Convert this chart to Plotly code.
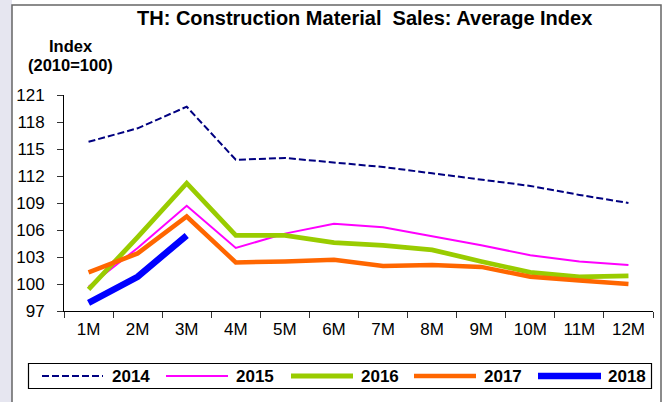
import plotly.graph_objects as go

months = ["1M", "2M", "3M", "4M", "5M", "6M", "7M", "8M", "9M", "10M", "11M", "12M"]
s2014 = [115.8, 117.3, 119.7, 113.8, 114.0, 113.5, 113.0, 112.3, 111.6, 110.9, 109.9, 109.0]
s2015 = [99.7, 104.0, 108.7, 104.0, 105.6, 106.7, 106.3, 105.3, 104.3, 103.2, 102.5, 102.1]
s2016 = [99.4, 105.2, 111.2, 105.4, 105.4, 104.6, 104.3, 103.8, 102.5, 101.3, 100.8, 100.9]
s2017 = [101.3, 103.4, 107.5, 102.4, 102.5, 102.7, 102.0, 102.1, 101.9, 100.8, 100.4, 100.0]
s2018 = [97.9, 100.8, 105.4]
yticks = [97, 100, 103, 106, 109, 112, 115, 118, 121]

series = [
    ("2014", s2014, "#000080", 2, "7px,3px"),
    ("2015", s2015, "#ff00ff", 2, "solid"),
    ("2016", s2016, "#99cc00", 4.8, "solid"),
    ("2017", s2017, "#ff6600", 4.5, "solid"),
    ("2018", s2018, "#0000ff", 6.5, "solid"),
]

W, H = 667, 402
L, R, T, B = 64, 14, 95, 91
PW, PH = W - L - R, H - T - B
FONT = "Liberation Sans, Arial"


def px(x):
    return (x - L) / PW


def py(y):
    return (H - B - y) / PH


fig = go.Figure()
for name, vals, col, w, dash in series:
    fig.add_trace(go.Scatter(
        x=months[:len(vals)], y=vals, mode="lines", name=name,
        line=dict(color=col, width=w, dash=dash), showlegend=False,
    ))

shapes = [
    dict(type="rect", xref="paper", yref="paper", x0=px(-5), x1=px(12), y0=py(410), y1=py(-5),
         fillcolor="#e6e6f0", line=dict(width=0), layer="below"),
    dict(type="rect", xref="paper", yref="paper", x0=px(12), x1=px(661), y0=py(410), y1=py(5),
         fillcolor="white", line=dict(color="#666666", width=1.5), layer="below"),
    dict(type="rect", xref="paper", yref="paper", x0=px(28.5), x1=px(651.5), y0=py(388.5), y1=py(363.5),
         fillcolor="white", line=dict(color="black", width=1.2), layer="above"),
]
annotations = [
    dict(text="TH: Construction Material\u00a0 Sales: Average Index", x=px(364), y=py(18),
         xref="paper", yref="paper", showarrow=False, xanchor="center", yanchor="middle",
         font=dict(family=FONT, size=20, color="black", weight="bold")),
    dict(text="Index", x=px(71), y=py(46), xref="paper", yref="paper", showarrow=False,
         xanchor="center", yanchor="middle",
         font=dict(family=FONT, size=16.5, color="black", weight="bold")),
    dict(text="(2010=100)", x=px(70), y=py(65), xref="paper", yref="paper", showarrow=False,
         xanchor="center", yanchor="middle",
         font=dict(family=FONT, size=16.5, color="black", weight="bold")),
]

leg_pos = [(42, 103, 110), (166, 228, 234), (291, 353, 359), (414, 476, 482), (538, 601, 606)]
ly = 376
for (name, vals, col, w, dash), (x0, x1, tx) in zip(series, leg_pos):
    shapes.append(dict(type="line", xref="paper", yref="paper", x0=px(x0), x1=px(x1),
                       y0=py(ly), y1=py(ly), line=dict(color=col, width=w, dash=dash), layer="above"))
    annotations.append(dict(text=name, x=px(tx), y=py(ly), xref="paper", yref="paper",
                            showarrow=False, xanchor="left", yanchor="middle",
                            font=dict(family=FONT, size=17, color="black", weight="bold")))

fig.update_layout(
    width=W, height=H,
    margin=dict(l=L, r=R, t=T, b=B),
    paper_bgcolor="white",
    plot_bgcolor="rgba(0,0,0,0)",
    font=dict(family=FONT, size=17, color="black"),
    shapes=shapes,
    annotations=annotations,
    showlegend=False,
    xaxis=dict(
        type="category", categoryorder="array", categoryarray=months,
        range=[-0.5, 11.5], tickson="boundaries", ticks="outside", ticklen=6,
        tickcolor="#333333", showline=True, linecolor="black", linewidth=1,
        showgrid=False, zeroline=False, tickfont=dict(size=17), ticklabelstandoff=3,
    ),
    yaxis=dict(
        range=[97, 121], tickvals=yticks, ticktext=[str(v) for v in yticks],
        ticks="outside", ticklen=6, tickcolor="#333333", showline=True,
        linecolor="black", linewidth=1, showgrid=False, zeroline=False,
        tickfont=dict(size=17), ticklabelstandoff=9,
    ),
)

fig.write_html("out.html", config={"displayModeBar": False},
               post_script="document.body.style.margin='0';document.body.style.padding='0';")
